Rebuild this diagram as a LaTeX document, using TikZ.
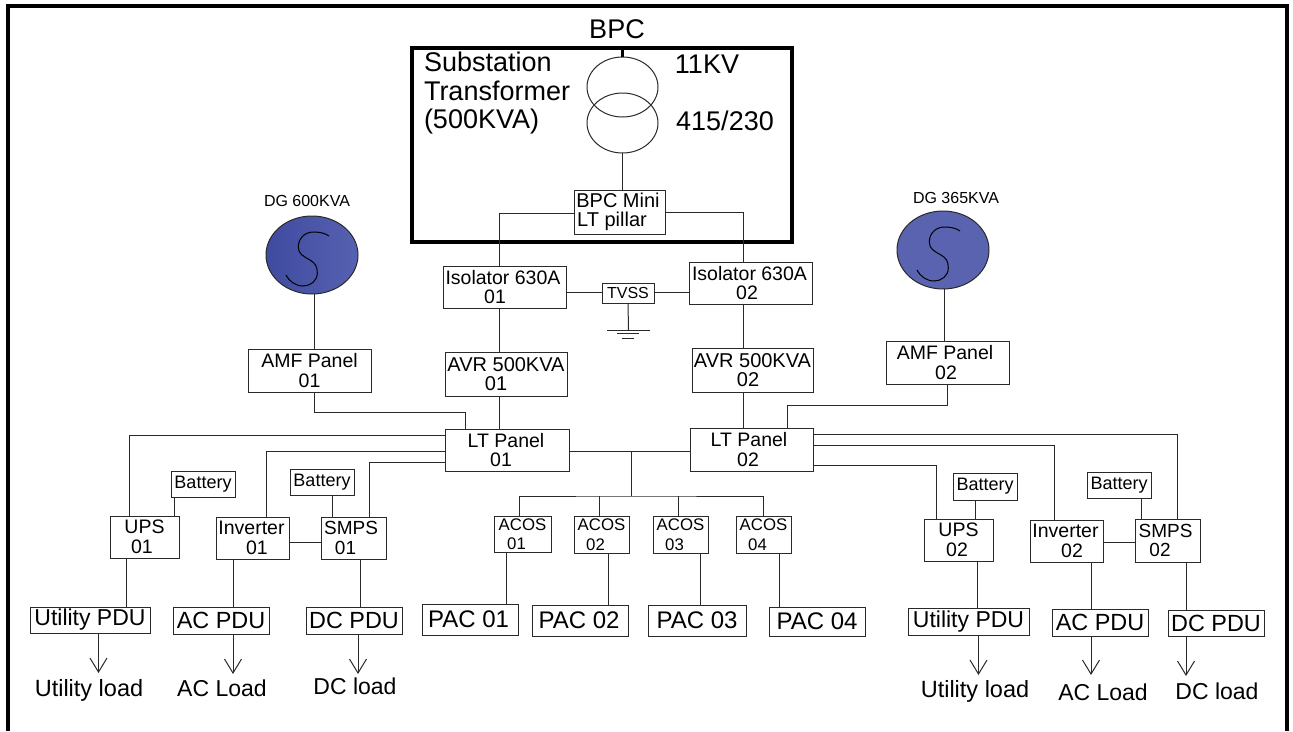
\documentclass[tikz,border=0pt]{standalone}
\usepackage{fontspec}
\setmainfont{Liberation Sans}
\usetikzlibrary{arrows.meta,shapes.geometric}
\definecolor{ink}{HTML}{2A2A2A}
\definecolor{dgl}{HTML}{3F4BA0}
\definecolor{dgr}{HTML}{5761B1}
\definecolor{dgm}{HTML}{5963AF}
\newcommand{\fs}[1]{\fontsize{#1}{#1}\selectfont}
\newcommand{\sh}[1]{\hspace*{#1pt}}
\newcommand{\bx}[6]{\node[boxn,minimum width={(#4-#2)*1pt},minimum height={(#5-#3)*1pt}] (#1) at ({(#2+#4)/2},{(#3+#5)/2}) {#6};}
\newcommand{\lb}[4]{\node[txt] (#1) at (#2,#3) {#4};}
\tikzset{
 boxn/.style={draw=ink,line width=1pt,fill=white,inner sep=0pt,outer sep=0pt,align=center,font=\fs{19.5},text=black},
 txt/.style={inner sep=0pt,outer sep=0pt,text=black,font=\fs{23}},
 wire/.style={draw=ink,line width=1pt},
 arr/.style={wire,-{Straight Barb[length=14pt,width=17pt,line width=1pt]}},
 dgbase/.style={ellipse,draw=ink,line width=1pt,minimum width=92pt,minimum height=78pt,inner sep=0pt,outer sep=0pt},
 tf/.style={ellipse,draw=ink,line width=1pt,minimum width=71pt,minimum height=60pt,inner sep=0pt,outer sep=0pt},
}
\begin{document}
\begin{tikzpicture}[x=1pt,y=-1pt]
\useasboundingbox (0,0) rectangle (1293,731);
\fill[white] (0,0) rectangle (1293,731);
% outer frame
\draw[black,line width=3.2pt] (8,731) -- (8,6) -- (1287,6) -- (1287,731);
% substation
\node[draw=black,line width=3.2pt,minimum width=380pt,minimum height=194pt,inner sep=0pt,outer sep=0pt] (sub) at (602,145) {};
\lb{bpc}{617}{29}{\fs{27}BPC}
\node[txt,font=\fs{27},align=left,anchor=north west] (subt) at (424,52) {Substation\\[1.5pt]Transformer\\[1.5pt](500KVA)};
\lb{kv}{707}{64}{\fs{27}11KV}
\lb{lv}{725}{121}{\fs{27}415/230}
\node[tf] (t1) at (622.5,87) {};
\node[tf] (t2) at (622.5,123) {};
\bx{mini}{574}{190}{665}{234}{\fs{20}\sh{-3}BPC Mini\\\fs{20}\sh{-15}LT pillar}
\bx{iso1}{443}{266}{566}{308}{\sh{-3}Isolator 630A\\\sh{-19}01}
\bx{iso2}{689}{262}{812}{304}{\sh{-2}Isolator 630A\\\sh{-7}02}
\bx{tvss}{602}{283}{654}{303}{\fs{16}\raisebox{1pt}{TVSS}}
\coordinate (gnd) at (628.5,330);
\bx{avr1}{445}{352}{567}{396}{\fs{20}AVR 500KVA\\\fs{20}\sh{-20}01}
\bx{avr2}{692}{348}{813}{392}{\fs{20}AVR 500KVA\\\fs{20}\sh{-9}02}
\bx{lt1}{445}{429}{569}{471}{\sh{-2}LT Panel\\\sh{-12}01}
\bx{lt2}{690}{428}{813}{471}{\sh{-5}LT Panel\\\sh{-7}02}
% generators
\node[dgbase,left color=dgl,right color=dgr] (dg1) at (312,255) {};
\node[dgbase,fill=dgm] (dg2) at (943,250) {};
\lb{dg1t}{307}{201}{\fs{16}DG 600KVA}
\lb{dg2t}{956}{198}{\fs{16}DG 365KVA}
\bx{amf1}{248}{349}{371}{392}{AMF Panel\\01}
\bx{amf2}{886}{341}{1009}{384}{\sh{-5}AMF Panel\\\sh{-3}02}
% left power
\bx{ups1}{110}{516}{179}{558}{UPS\\\sh{-5}01}
\bx{inv1}{216}{517}{289}{559}{\sh{-2}Inverter\\\sh{9}01}
\bx{smps1}{321}{517}{386}{559}{\fs{19}\sh{-5}SMPS\\\fs{19}\sh{-16}01}
\bx{bat1}{171}{471}{235}{497}{\fs{18}Battery}
\bx{bat2}{290}{469}{354}{495}{\fs{18}Battery}
\bx{pu1}{30}{607}{150}{633}{\fs{23}Utility PDU}
\bx{pa1}{173}{607}{269}{634}{\fs{23.4}AC PDU}
\bx{pd1}{306}{607}{402}{634}{\fs{23.4}DC PDU}
\lb{lu1}{89}{690}{\fs{23.5}Utility load}
\lb{la1}{222}{688}{\fs{23}AC Load}
\lb{ld1}{355}{686}{\fs{23}DC load}
% right power
\bx{ups2}{924}{519}{993}{561}{UPS\\\sh{-3}02}
\bx{inv2}{1030}{520}{1103}{562}{\sh{-2}Inverter\\\sh{11}02}
\bx{smps2}{1135}{519}{1200}{562}{\fs{19}\sh{-4}SMPS\\\fs{19}\sh{-15}02}
\bx{bat3}{953}{473}{1017}{500}{\fs{18}Battery}
\bx{bat4}{1087}{472}{1151}{498}{\fs{18}Battery}
\bx{pu2}{908}{608}{1029}{635}{\fs{23}Utility PDU}
\bx{pa2}{1052}{609}{1148}{636}{\fs{23.4}AC PDU}
\bx{pd2}{1168}{610}{1264}{636}{\fs{23.4}DC PDU}
\lb{lu2}{975}{691}{\fs{23.5}Utility load}
\lb{la2}{1103}{692}{\fs{23}AC Load}
\lb{ld2}{1217}{691}{\fs{23}DC load}
% ACOS and PAC
\bx{ac1}{494}{516}{551}{552}{\fs{16.8}ACOS\\\fs{16.8}\sh{-12}01}
\bx{ac2}{574}{516}{629}{553}{\fs{16.8}ACOS\\\fs{16.8}\sh{-12}02}
\bx{ac3}{653}{516}{708}{553}{\fs{16.8}ACOS\\\fs{16.8}\sh{-12}03}
\bx{ac4}{736}{516}{791}{553}{\fs{16.8}ACOS\\\fs{16.8}\sh{-12}04}
\bx{pac1}{422}{604}{518}{635}{\fs{24}\sh{-3}PAC 01}
\bx{pac2}{532}{605}{628}{636}{\fs{24}\sh{-2}PAC 02}
\bx{pac3}{648}{605}{746}{636}{\fs{24}PAC 03}
\bx{pac4}{769}{607}{865}{636}{\fs{24}PAC 04}
\coordinate (hub) at (631,451);
\coordinate (bus) at (631,496);
% wires
\draw[black,line width=3pt] (sub.north -| t1.north) -- (t1.north);
\draw[wire] (t2.south) -- (mini.north -| t2.south);
\draw[wire] (mini.west |- 0,213) -| (iso1.north -| 499,0);
\draw[wire] (mini.east |- 0,212) -| (iso2.north -| 743,0);
\draw[wire] (iso1.east |- 0,292) -- (tvss.west |- 0,292);
\draw[wire] (tvss.east |- 0,292) -- (iso2.west |- 0,292);
\draw[wire] (tvss.south) -- (gnd);
\draw[wire,line width=.8pt] (607,330) -- (650,330) (617,333.5) -- (639,333.5) (622,338) -- (634,338);
\draw[wire] (iso1.south -| 499,0) -- (avr1.north -| 499,0);
\draw[wire] (avr1.south -| 499,0) -- (lt1.north -| 499,0);
\draw[wire] (iso2.south -| 743,0) -- (avr2.north -| 743,0);
\draw[wire] (avr2.south -| 743,0) -- (lt2.north -| 743,0);
\draw[wire] (lt1.east |- 0,451) -- (lt2.west |- 0,451);
\draw[wire] (hub) -- (bus);
\draw[wire] (ac1.north -| 519,0) |- (bus) -| (ac4.north -| 763,0);
\draw[wire] (ac2.north -| 599,0) -- (599,496);
\draw[wire] (ac3.north -| 678,0) -- (678,496);
\draw[wire] (ac1.south -| 506,0) -- (pac1.north -| 506,0);
\draw[wire] (ac2.south -| 608,0) -- (pac2.north -| 608,0);
\draw[wire] (ac3.south -| 700,0) -- (pac3.north -| 700,0);
\draw[wire] (ac4.south -| 779,0) -- (pac4.north -| 779,0);
\draw[wire] (dg1.south -| 314,0) -- (amf1.north -| 314,0);
\draw[wire] (amf1.south -| 314,0) |- (465,412) -- (lt1.north -| 465,0);
\draw[wire] (dg2.south -| 944,0) -- (amf2.north -| 944,0);
\draw[wire] (amf2.south -| 947,0) |- (787,405) -- (lt2.north -| 787,0);
\draw[wire] (lt1.west |- 0,435) -| (ups1.north -| 129,0);
\draw[wire] (lt1.west |- 0,451) -| (inv1.north -| 266,0);
\draw[wire] (lt1.west |- 0,462) -| (smps1.north -| 369,0);
\draw[wire] (bat1.south -| 174.5,0) -- (ups1.north -| 174.5,0);
\draw[wire] (bat2.south -| 332,0) -- (smps1.north -| 332,0);
\draw[wire] (inv1.east |- 0,542) -- (smps1.west |- 0,542);
\draw[wire] (ups1.south -| 126,0) -- (pu1.north -| 126,0);
\draw[wire] (inv1.south -| 233,0) -- (pa1.north -| 233,0);
\draw[wire] (smps1.south -| 360,0) -- (pd1.north -| 360,0);
\draw[arr] (pu1.south -| 98.5,0) -- (98.5,673);
\draw[arr] (pa1.south -| 233,0) -- (233,674);
\draw[arr] (pd1.south -| 358,0) -- (358,674);
\draw[wire] (lt2.east |- 0,434) -| (smps2.north -| 1177,0);
\draw[wire] (lt2.east |- 0,445) -| (inv2.north -| 1054,0);
\draw[wire] (lt2.east |- 0,465) -| (ups2.north -| 936,0);
\draw[wire] (bat3.south -| 975,0) -- (ups2.north -| 975,0);
\draw[wire] (bat4.south -| 1141,0) -- (smps2.north -| 1141,0);
\draw[wire] (inv2.east |- 0,542) -- (smps2.west |- 0,542);
\draw[wire] (ups2.south -| 977,0) -- (pu2.north -| 977,0);
\draw[wire] (inv2.south -| 1091,0) -- (pa2.north -| 1091,0);
\draw[wire] (smps2.south -| 1186,0) -- (pd2.north -| 1186,0);
\draw[arr] (pu2.south -| 978.5,0) -- (978.5,675);
\draw[arr] (pa2.south -| 1091,0) -- (1091,675);
\draw[arr] (pd2.south -| 1186,0) -- (1186,676);
% generator S curves
\foreach \n in {dg1,dg2}{
\draw[black,line width=1pt] ([shift={(17,-19)}]\n.center) .. controls +(-4,-3) and +(6,0) .. ([shift={(1.3,-23)}]\n.center)
 .. controls +(-9,0) and +(0,-8) .. ([shift={(-13.7,-8)}]\n.center)
 .. controls +(0,7) and +(-7,-4) .. ([shift={(-2,5)}]\n.center)
 .. controls +(5,3) and +(0,-7) .. ([shift={(5.3,18)}]\n.center)
 .. controls +(0,8) and +(7,0) .. ([shift={(-8.7,31)}]\n.center)
 .. controls +(-8,0) and +(3,6) .. ([shift={(-26,20)}]\n.center);
}
\end{tikzpicture}
\end{document}
